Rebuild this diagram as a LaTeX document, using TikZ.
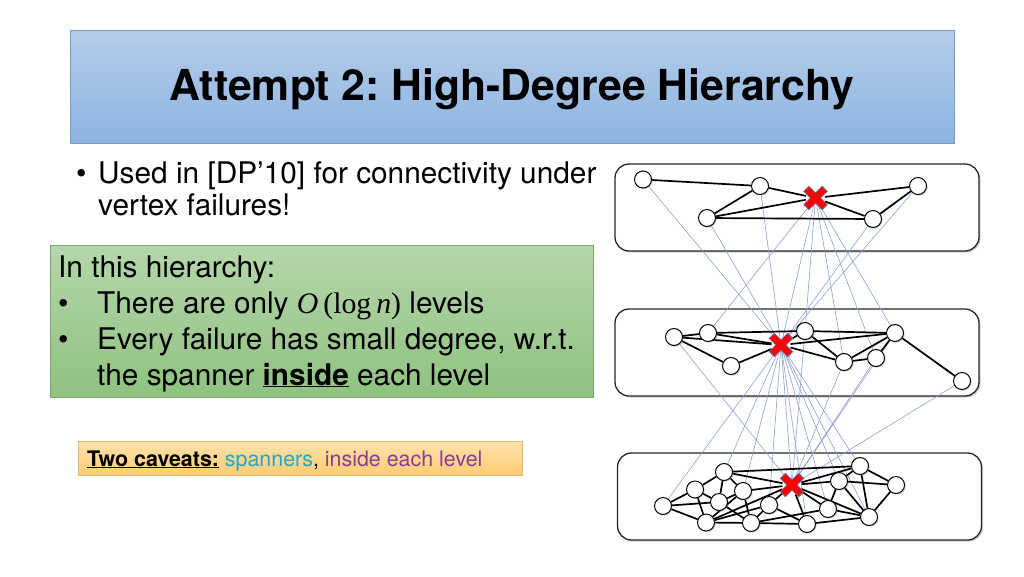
\documentclass[tikz,border=0pt]{standalone}
\usepackage{fontspec}
\setmainfont{TeX Gyre Heros}
\newfontfamily\formulafont{Liberation Serif}
\frenchspacing
\usetikzlibrary{shadows,shapes.misc}
\pgfdeclarelayer{back}
\pgfdeclarelayer{links}
\pgfsetlayers{back,links,main}
\definecolor{titletop}{HTML}{B4CDE9}
\definecolor{titlebot}{HTML}{8DB4E2}
\definecolor{greentop}{HTML}{B5D6AB}
\definecolor{greenbot}{HTML}{8FC27F}
\definecolor{orangetop}{HTML}{FFE2AC}
\definecolor{orangebot}{HTML}{FFCC74}
\definecolor{linkblue}{HTML}{8C9FD6}
\definecolor{failedge}{HTML}{6A6F9E}
\definecolor{spancol}{HTML}{1FA8C8}
\definecolor{levelcol}{HTML}{8A3B98}
\tikzset{
	levelbox/.style={draw=black!85,fill=white,line width=1.3pt,rounded corners=14pt,
		minimum width=364pt,minimum height=87pt,inner sep=0pt,
		drop shadow={shadow xshift=1.5pt,shadow yshift=-1.5pt,opacity=0.4}},
	vertex/.style={circle,draw=black,fill=white,line width=1pt,inner sep=0pt,minimum size=17pt,
		drop shadow={shadow xshift=1.2pt,shadow yshift=-1.2pt,opacity=0.35}},
	failback/.style={cross out,draw=failedge,line width=8pt,inner sep=0pt,minimum size=11pt},
	failtop/.style={cross out,draw=red,line width=6.3pt,inner sep=0pt,minimum size=11pt},
	updown/.style={draw=linkblue,line width=0.6pt},
	spanedge/.style={draw=black,line width=1.7pt},
	bodytext/.style={anchor=base west,inner sep=0pt,font=\fontsize{29.8}{32}\selectfont},
}
\begin{document}
\begin{tikzpicture}[x=1pt,y=-1pt]
	\useasboundingbox (0,0) rectangle (1024,576);

	\node [draw=titlebot!85!black,line width=0.7pt,top color=titletop,bottom color=titlebot,
		minimum width=884pt,minimum height=113pt,inner sep=0pt] (band) at (512,86.5) {};
	\node [anchor=base,inner sep=0pt,font=\fontsize{42.7}{46}\selectfont\bfseries] (title) at (512,100) {Attempt 2: High-Degree Hierarchy};

	\node [bodytext] (dot0) at (76,183) {•};
	\node [bodytext] (used) at (98,183) {Used in [DP’10] for connectivity under};
	\node [bodytext] (vert) at (98,215) {vertex failures!};

	\node [draw=greenbot!85!black,line width=0.7pt,top color=greentop,bottom color=greenbot,
		minimum width=543pt,minimum height=152pt,inner sep=0pt] (greenbox) at (321.5,321) {};
	\node [bodytext] (hier) at (58,277) {In this hierarchy:};
	\node [bodytext] (dot1) at (58,313) {•};
	\node [bodytext] (only) at (97,313) {There are only {\formulafont\itshape O\,\upshape(log\,\itshape n\upshape)} levels};
	\node [bodytext] (dot2) at (58,349) {•};
	\node [bodytext] (every) at (97,349) {Every failure has small degree, w.r.t.};
	\node [bodytext] (span) at (97,385) {the spanner \underline{\textbf{inside}} each level};

	\node [draw=orangebot!90!black,line width=0.5pt,top color=orangetop,bottom color=orangebot,
		minimum width=444pt,minimum height=34pt,inner sep=0pt] (orangebox) at (300,458) {};
	\node [anchor=base west,inner sep=0pt,font=\fontsize{21.4}{24}\selectfont] (caveat) at (87,466)
		{\underline{\textbf{Two caveats:}} \textcolor{spancol}{spanners}, \textcolor{levelcol}{inside each level}};

	\begin{pgfonlayer}{back}
	\node [levelbox] (L1) at (797,207.5) {};
	\node [levelbox] (L2) at (797,352.5) {};
	\node [levelbox] (L3) at (799.5,496.5) {};
	\end{pgfonlayer}

	\begin{scope}[every node/.style={vertex}]
	\node (a1) at (643,179.5) {};
	\node (a2) at (760,186) {};
	\node (a3) at (707,218) {};
	\node (a4) at (873,219) {};
	\node (a5) at (918,186) {};

	\node (b1) at (674,337) {};
	\node (b2) at (708,333) {};
	\node (b3) at (731,366) {};
	\node (b4) at (805,331) {};
	\node (b5) at (895,333) {};
	\node (b6) at (844,362) {};
	\node (b7) at (876,358) {};
	\node (b8) at (962,381) {};

	\node (c1) at (663,506) {};
	\node (c2) at (695,489.5) {};
	\node (c3) at (724,472) {};
	\node (c4) at (719,502) {};
	\node (c5) at (706,522.5) {};
	\node (c6) at (743,491) {};
	\node (c7) at (751,523) {};
	\node (c8) at (769,505) {};
	\node (c9) at (807,524) {};
	\node (c10) at (828,509) {};
	\node (c11) at (839,481) {};
	\node (c12) at (860,466) {};
	\node (c13) at (896,485) {};
	\node (c14) at (869,517) {};
	\end{scope}

	\node [failback] (x1) at (815.5,198) {};
	\node [failback] (x2) at (781,345) {};
	\node [failback] (x3) at (792,485) {};
	\node [failtop] (x1top) at (x1) {};
	\node [failtop] (x2top) at (x2) {};
	\node [failtop] (x3top) at (x3) {};

	\begin{pgfonlayer}{links}
	\foreach \u in {a1,a2,a3,a4,a5,x1}
		\path [updown] (\u.center) -- (x2.center);
	\foreach \v in {b2,b4,b5,b6,b7}
		\path [updown] (x1.center) -- (\v.center);
	\foreach \u in {b1,b4,b5,b6,b7,b8,x2}
		\path [updown] (\u.center) -- (x3.center);
	\foreach \v in {c1,c3,c6,c8,c9,c10,c11,c12,c14}
		\path [updown] (x2.center) -- (\v.center);

	\begin{scope}[every edge/.style={spanedge}]
	\path (a1) edge (a2);
	\path (a2) edge (x1);
	\path (a2) edge (a3);
	\path (a3) edge (x1);
	\path (a3) edge (a4);
	\path (a4) edge (x1);
	\path (a4) edge (a5);
	\path (x1) edge (a5);

	\path (b1) edge (b2);
	\path (b1) edge (x2);
	\path (b1) edge (b3);
	\path (b3) edge (x2);
	\path (b2) edge (x2);
	\path (b2) edge (b4);
	\path (b4) edge (x2);
	\path (b4) edge (b5);
	\path (b4) edge (b6);
	\path (x2) edge (b5);
	\path (x2) edge (b6);
	\path (b6) edge (b5);
	\path (b6) edge (b7);
	\path (b7) edge (b5);
	\path (b5) edge (b8);

	\path (c1) edge (c2);
	\path (c1) edge (c4);
	\path (c1) edge (c5);
	\path (c2) edge (c3);
	\path (c2) edge (c4);
	\path (c2) edge (c5);
	\path (c3) edge (c4);
	\path (c3) edge (c6);
	\path (c3) edge (c12);
	\path (c3) edge (x3);
	\path (c4) edge (c6);
	\path (c4) edge (c7);
	\path (c5) edge (c6);
	\path (c5) edge (c7);
	\path (c5) edge (c8);
	\path (c5) edge (x3);
	\path (c6) edge (c7);
	\path (c6) edge (x3);
	\path (c7) edge (c8);
	\path (c7) edge (c9);
	\path (c7) edge (c10);
	\path (c8) edge (c9);
	\path (c8) edge (x3);
	\path (c9) edge (x3);
	\path (c9) edge (c14);
	\path (c10) edge (x3);
	\path (c10) edge (c11);
	\path (c10) edge (c14);
	\path (c11) edge (x3);
	\path (c11) edge (c12);
	\path (c11) edge (c13);
	\path (c11) edge (c14);
	\path (c12) edge (x3);
	\path (c12) edge (c13);
	\path (c12) edge (c14);
	\path (c13) edge (c14);
	\path (c14) edge (x3);
	\end{scope}
	\end{pgfonlayer}
\end{tikzpicture}
\end{document}
